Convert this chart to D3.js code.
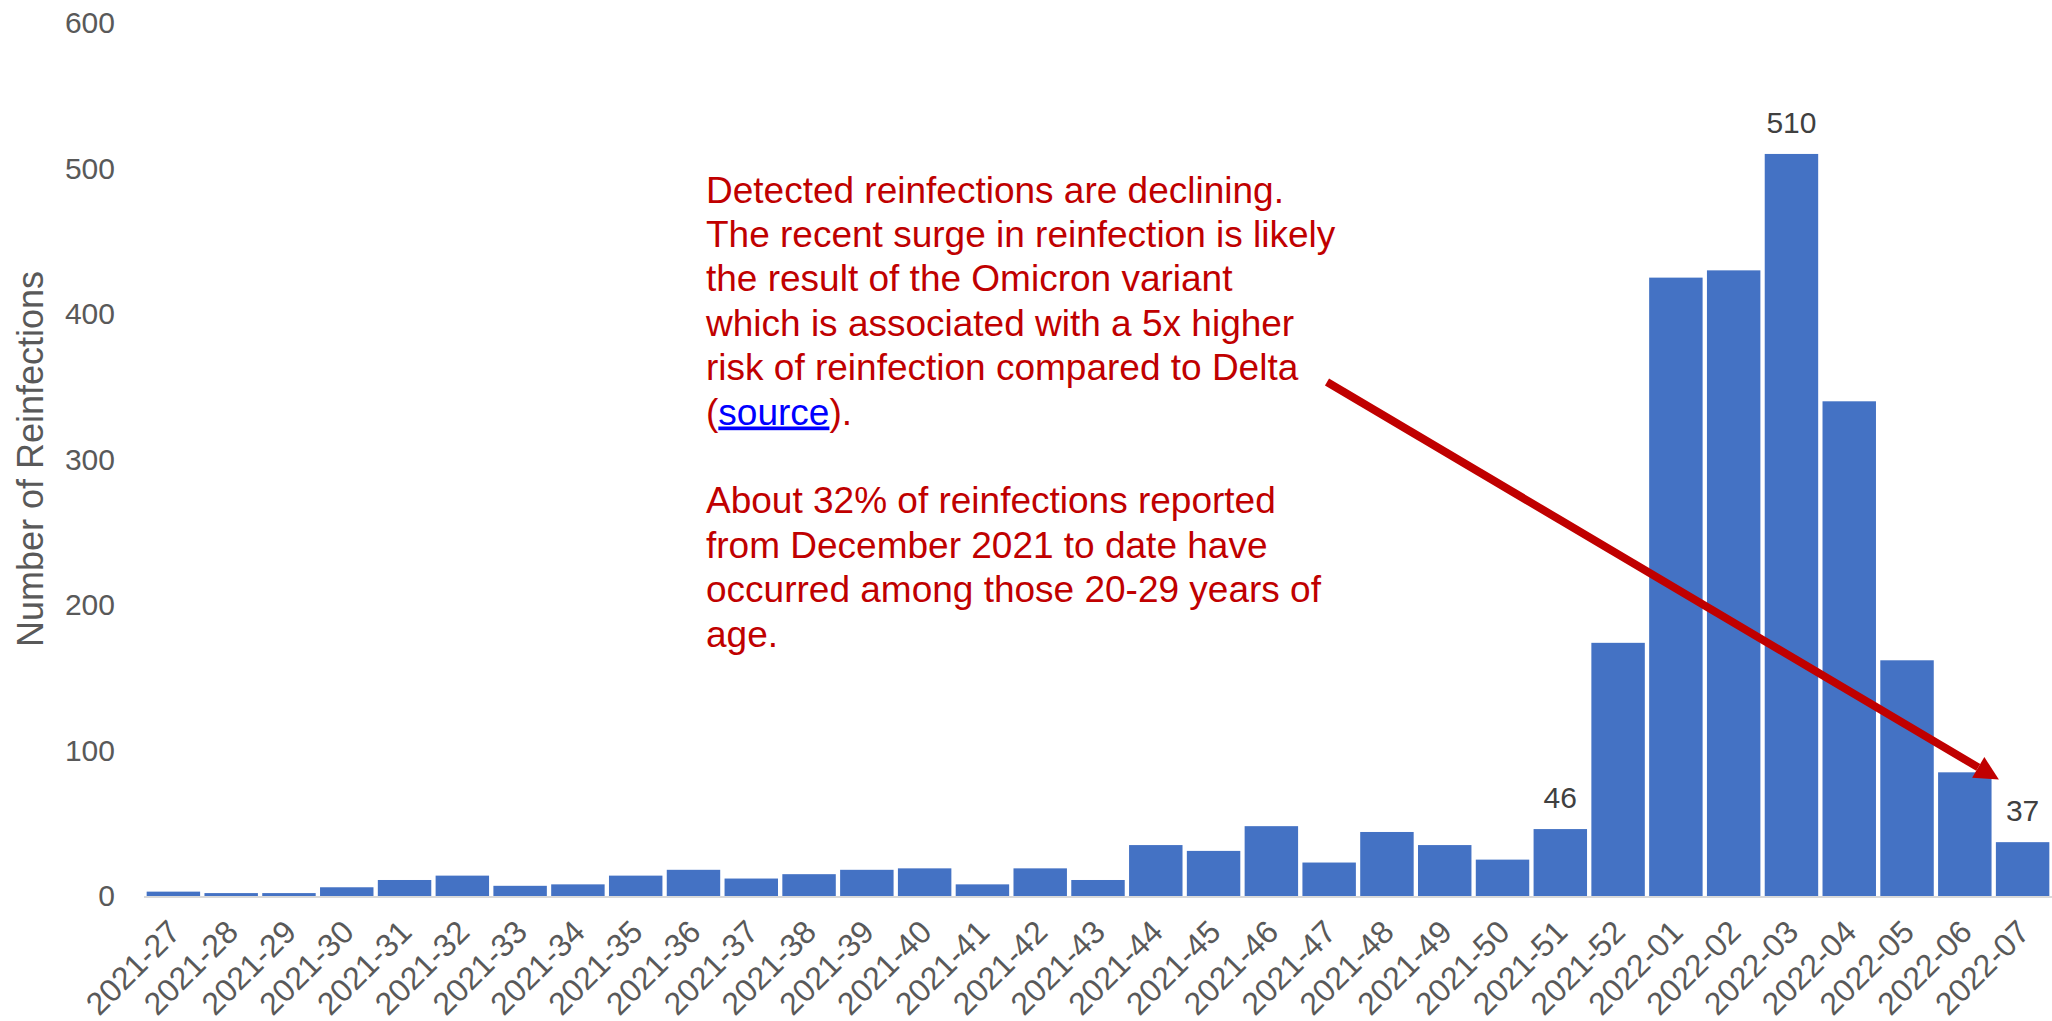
<!DOCTYPE html>
<html>
<head>
<meta charset="utf-8">
<title>Reinfections by week</title>
<script src="https://d3js.org/d3.v7.min.js"></script>
<style>
  body { margin: 0; background: #fff; }
  svg text { font-family: "Liberation Sans", Arial, sans-serif; }
</style>
</head>
<body>
<script>
// weekly detected reinfections
const weeks = ["2021-27","2021-28","2021-29","2021-30","2021-31","2021-32","2021-33","2021-34",
  "2021-35","2021-36","2021-37","2021-38","2021-39","2021-40","2021-41","2021-42","2021-43",
  "2021-44","2021-45","2021-46","2021-47","2021-48","2021-49","2021-50","2021-51","2021-52",
  "2022-01","2022-02","2022-03","2022-04","2022-05","2022-06","2022-07"];
const reinfections = [3, 2, 2, 6, 11, 14, 7, 8, 14, 18, 12, 15, 18, 19, 8, 19, 11,
  35, 31, 48, 23, 44, 35, 25, 46, 174, 425, 430, 510, 340, 162, 85, 37];
const labelledWeeks = ["2021-51", "2022-03", "2022-07"];
const yTicks = [0, 100, 200, 300, 400, 500, 600];
const yTitle = "Number of Reinfections";

const noteLines = [
  "Detected reinfections are declining.",
  "The recent surge in reinfection is likely",
  "the result of the Omicron variant",
  "which is associated with a 5x higher",
  "risk of reinfection compared to Delta",
  "(source).",
  "",
  "About 32% of reinfections reported",
  "from December 2021 to date have",
  "occurred among those 20-29 years of",
  "age."
];
const linkWord = "source";

const width = 2052, height = 1021;
const data = weeks.map((w, i) => ({ week: w, value: reinfections[i] }));

const svg = d3.select("body").append("svg")
  .attr("width", width)
  .attr("height", height);

const x = d3.scaleBand()
  .domain(weeks)
  .range([144.5, 2051.5])
  .paddingInner(0.075)
  .paddingOuter(0.0375);

const y = d3.scaleLinear()
  .domain([0, 600])
  .range([896, 23]);

// y axis labels only, no line
const yAxis = svg.append("g")
  .attr("transform", "translate(144,0)")
  .call(d3.axisLeft(y).tickValues(yTicks).tickSize(0).tickPadding(29));
yAxis.select(".domain").remove();
yAxis.selectAll("text")
  .attr("font-size", 30)
  .attr("fill", "#595959")
  .style("font-family", "'Liberation Sans', Arial, sans-serif");

svg.append("text")
  .attr("transform", "translate(43," + 459 + ") rotate(-90)")
  .attr("text-anchor", "middle")
  .attr("font-size", 36)
  .attr("fill", "#595959")
  .text(yTitle);

// bars
svg.selectAll("rect.bar")
  .data(data)
  .enter().append("rect")
  .attr("class", "bar")
  .attr("x", d => x(d.week))
  .attr("y", d => y(d.value))
  .attr("width", x.bandwidth())
  .attr("height", d => y(0) - y(d.value))
  .attr("fill", "#4472C4");

// baseline
svg.append("line")
  .attr("x1", 144).attr("x2", width)
  .attr("y1", y(0) + 1).attr("y2", y(0) + 1)
  .attr("stroke", "#D9D9D9")
  .attr("stroke-width", 2);

// x axis labels rotated
const xAxis = svg.append("g")
  .attr("transform", "translate(0," + y(0) + ")")
  .call(d3.axisBottom(x).tickSize(0).tickPadding(0));
xAxis.select(".domain").remove();
xAxis.selectAll("text")
  .attr("font-size", 32)
  .attr("fill", "#595959")
  .style("font-family", "'Liberation Sans', Arial, sans-serif")
  .attr("text-anchor", "end")
  .attr("dy", 0)
  .attr("y", 0)
  .attr("transform", "translate(9,38) rotate(-45)");

// value labels
svg.selectAll("text.value")
  .data(data.filter(d => labelledWeeks.includes(d.week)))
  .enter().append("text")
  .attr("class", "value")
  .attr("x", d => x(d.week) + x.bandwidth() / 2)
  .attr("y", d => y(d.value) - 21)
  .attr("text-anchor", "middle")
  .attr("font-size", 30)
  .attr("fill", "#404040")
  .text(d => d.value);

// annotation text
const note = svg.append("text")
  .attr("font-size", 37)
  .attr("fill", "#C00000");
noteLines.forEach((line, i) => {
  const yy = 202.5 + i * 44.4;
  const linkPart = "(" + linkWord + ")";
  if (line.indexOf(linkPart) === 0) {
    note.append("tspan").attr("x", 706).attr("y", yy).text("(");
    note.append("tspan").attr("fill", "#0000FF")
      .style("text-decoration", "underline")
      .text(linkWord);
    note.append("tspan").text(")" + line.slice(linkPart.length));
  } else if (line !== "") {
    note.append("tspan").attr("x", 706).attr("y", yy).text(line);
  }
});

// arrow pointing at the latest week
const tip = [x("2022-07") + 3, y(80)];
const start = [1327, 382];
const ang = Math.atan2(tip[1] - start[1], tip[0] - start[0]);
const headLen = 24, headHalf = 12;
const base = [tip[0] - headLen * Math.cos(ang), tip[1] - headLen * Math.sin(ang)];
svg.append("line")
  .attr("x1", start[0]).attr("y1", start[1])
  .attr("x2", base[0]).attr("y2", base[1])
  .attr("stroke", "#C00000")
  .attr("stroke-width", 8);
svg.append("polygon")
  .attr("points", [
    tip,
    [base[0] + headHalf * Math.sin(ang), base[1] - headHalf * Math.cos(ang)],
    [base[0] - headHalf * Math.sin(ang), base[1] + headHalf * Math.cos(ang)]
  ].map(p => p.join(",")).join(" "))
  .attr("fill", "#C00000");
</script>
</body>
</html>
